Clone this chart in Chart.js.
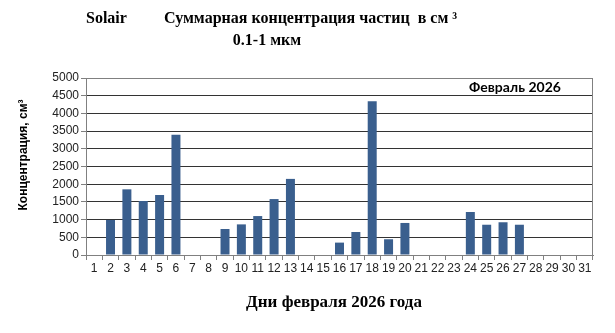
<!DOCTYPE html>
<html>
<head>
<meta charset="utf-8">
<script src="https://cdn.jsdelivr.net/npm/chart.js@4/dist/chart.umd.min.js"></script>
<style>
  html, body { margin: 0; padding: 0; background: #fff; }
  #wrap { width: 615px; height: 333px; }
</style>
</head>
<body>
<div id="wrap"><canvas id="chart" width="615" height="333"></canvas></div>
<script>
// ===== Data =====
var days = ['1','2','3','4','5','6','7','8','9','10','11','12','13','14','15','16',
            '17','18','19','20','21','22','23','24','25','26','27','28','29','30','31'];
var concentration = [null, 990, 1855, 1525, 1695, 3400, null, null, 735, 865, 1100, 1580, 2150, null, null,
                     350, 650, 4340, 445, 905, null, null, null, 1215, 855, 925, 855, null, null, null, null];
var yTicks = [0, 500, 1000, 1500, 2000, 2500, 3000, 3500, 4000, 4500, 5000];

var titleLeft = 'Solair';
var titleMain = 'Суммарная концентрация частиц  в см ³';
var titleSub = '0.1-1 мкм';
var monthLabel = 'Февраль 2026';
var yTitle = 'Концентрация, см³';
var xTitle = 'Дни февраля 2026 года';

// ===== Titles drawn on the canvas =====
var titlesPlugin = {
    id: 'titles',
    afterDraw: function(chart) {
        var ctx = chart.ctx;
        var area = chart.chartArea;
        ctx.save();
        ctx.fillStyle = '#000';
        ctx.textBaseline = 'middle';
        ctx.font = 'bold 16px "Liberation Serif", serif';
        ctx.textAlign = 'left';
        ctx.fillText(titleLeft, 86, 19);
        ctx.fillText(titleMain, 164, 19);
        ctx.textAlign = 'center';
        ctx.fillText(titleSub, 267, 41);

        // month label inside plot
        ctx.font = 'bold 14px Lato, sans-serif';
        ctx.fillText(monthLabel, 515, area.top + 9);

        // x axis title
        ctx.font = 'bold 17px "Liberation Serif", serif';
        ctx.fillText(xTitle, 334, 303);

        // y axis title (rotated)
        ctx.save();
        ctx.translate(24, 155);
        ctx.rotate(-Math.PI / 2);
        ctx.font = 'bold 12px "Liberation Sans", sans-serif';
        ctx.fillText(yTitle, 0, 0);
        ctx.restore();
        ctx.restore();
    }
};

new Chart(document.getElementById('chart'), {
    type: 'bar',
    data: {
        labels: days,
        datasets: [{
            label: 'Концентрация',
            data: concentration,
            backgroundColor: '#3A5F8E',
            borderWidth: 0,
            categoryPercentage: 1.0,
            barPercentage: 0.55
        }]
    },
    options: {
        responsive: false,
        animation: false,
        layout: { padding: { left: 0, top: 78, right: 22, bottom: 0 } },
        plugins: {
            legend: { display: false },
            tooltip: { enabled: false }
        },
        scales: {
            x: {
                grid: { display: true, drawOnChartArea: false, drawTicks: true, tickLength: 5, color: '#808080', offset: true },
                border: { color: '#808080' },
                ticks: { color: '#222', font: { family: 'Liberation Sans', size: 12 }, maxRotation: 0, autoSkip: false, padding: 1 },
                afterFit: function(scale) { scale.height = 78; }
            },
            y: {
                min: 0,
                max: 5000,
                afterBuildTicks: function(scale) {
                    scale.ticks = yTicks.map(function(v) { return { value: v }; });
                },
                grid: { color: '#333', lineWidth: 1, tickLength: 5, drawTicks: true, tickColor: '#808080' },
                border: { color: '#808080' },
                ticks: {
                    color: '#222',
                    font: { family: 'Liberation Sans', size: 12 },
                    padding: 2,
                    callback: function(v) { return String(v); }
                },
                afterFit: function(scale) { scale.width = 86; }
            }
        }
    },
    plugins: [titlesPlugin, {
        id: 'frame',
        afterDatasetsDraw: function(chart) {
            var a = chart.chartArea;
            var ctx = chart.ctx;
            ctx.save();
            ctx.strokeStyle = '#808080';
            ctx.lineWidth = 1;
            ctx.strokeRect(a.left + 0.5, a.top + 0.5, a.right - a.left - 1, a.bottom - a.top);
            ctx.restore();
        }
    }]
});
</script>
</body>
</html>
